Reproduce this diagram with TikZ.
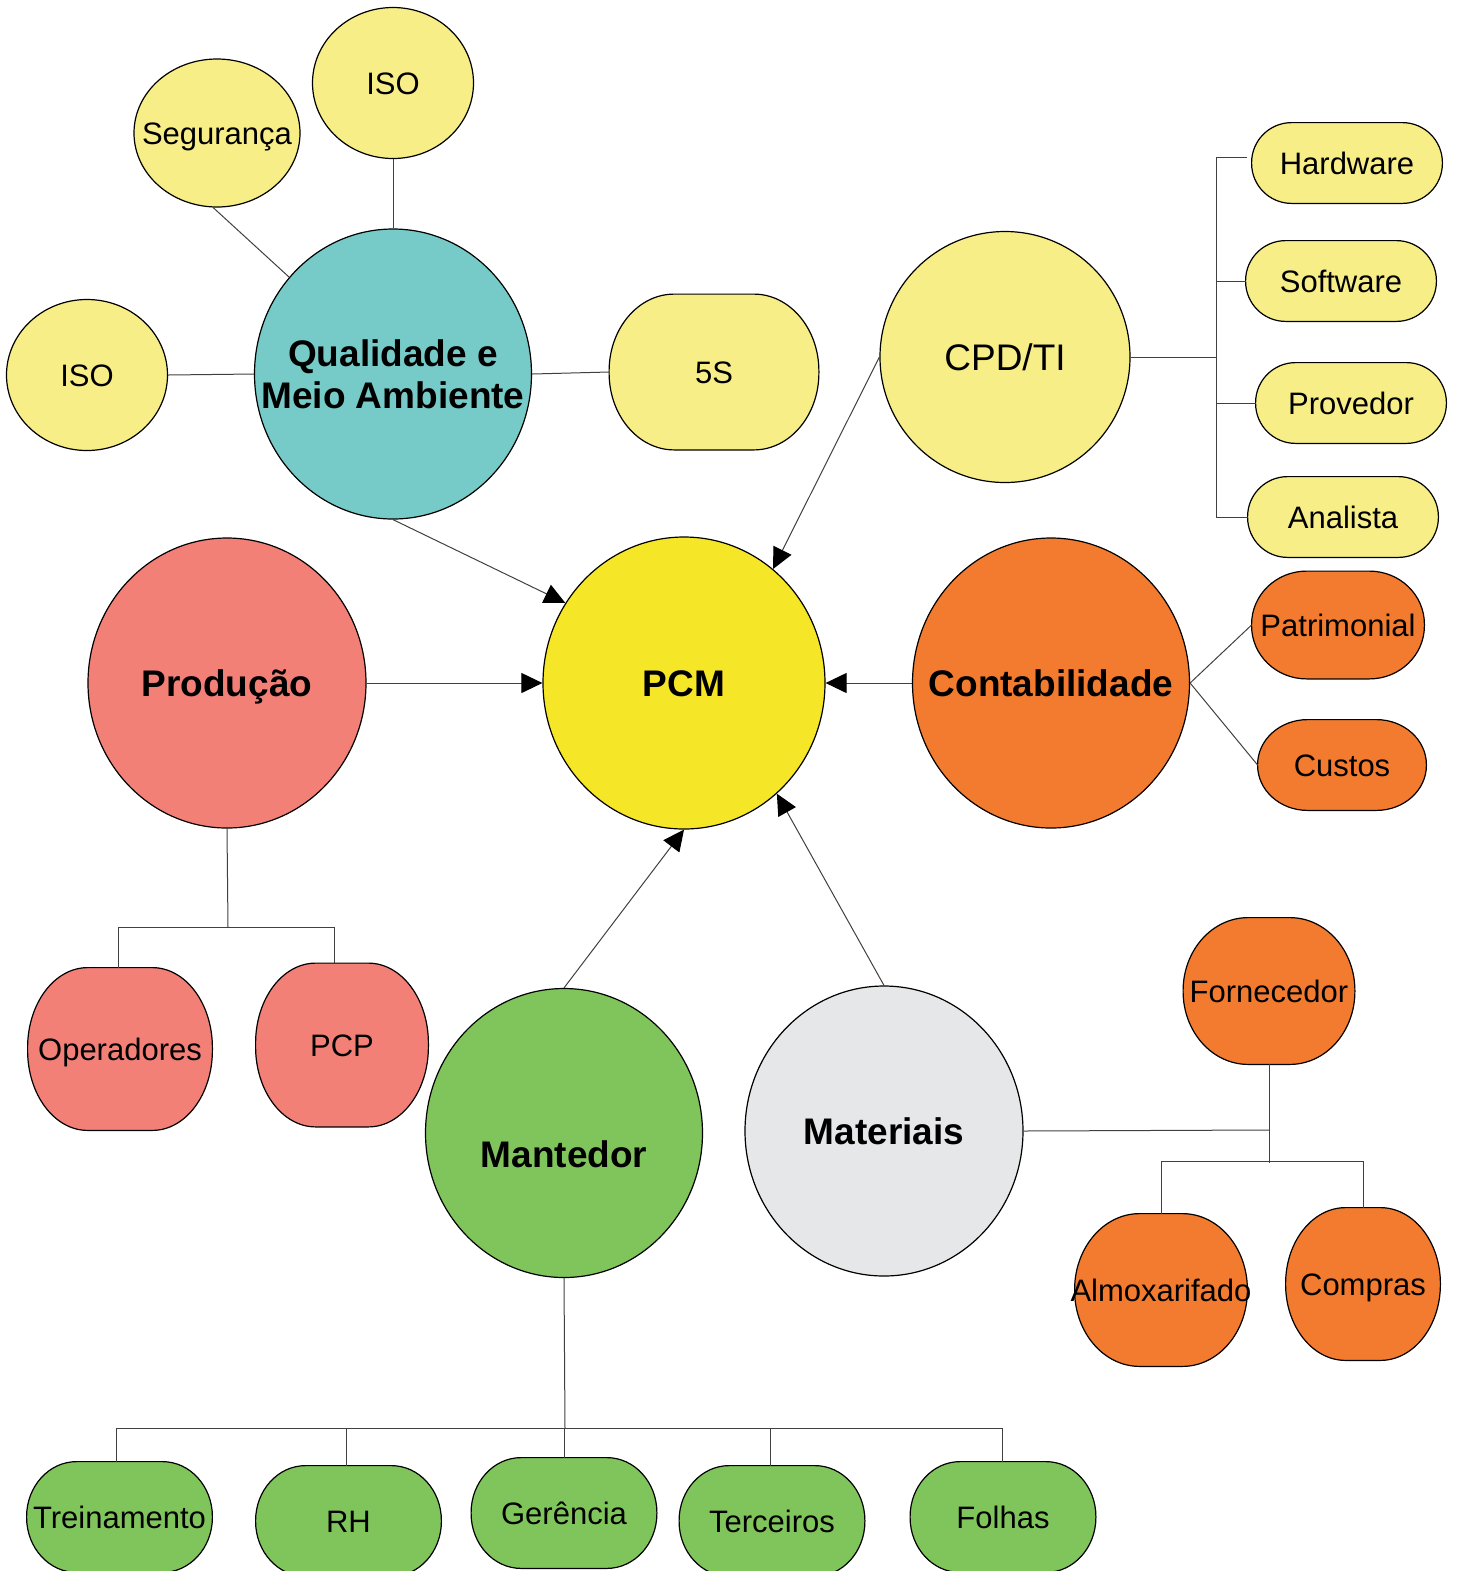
\documentclass[tikz,border=0pt]{standalone}
\usepackage{fontspec}
\setmainfont{Liberation Sans}
\usetikzlibrary{shapes.geometric,arrows.meta,calc}

\definecolor{ylw}{HTML}{F8EE88}
\definecolor{teal}{HTML}{76CAC7}
\definecolor{pcmy}{HTML}{F6E628}
\definecolor{salmon}{HTML}{F28077}
\definecolor{orng}{HTML}{F37B2F}
\definecolor{grn}{HTML}{80C55C}
\definecolor{gry}{HTML}{E6E7E8}

\pgfdeclarelayer{bg}
\pgfsetlayers{bg,main}

% rounded box with elliptical corners drawn behind a named node
% #1 node, #2 corner x radius, #3 corner y radius, #4 fill
\newcommand\ebox[4]{%
  \path[draw=black, line width=0.6pt, fill=#4]
    let \p1=(#1.south west), \p2=(#1.north east) in
    (\x1+#2,\y1) -- (\x2-#2,\y1)
    arc[start angle=-90, end angle=0, x radius=#2, y radius=#3]
    -- (\x2,\y2-#3)
    arc[start angle=0, end angle=90, x radius=#2, y radius=#3]
    -- (\x1+#2,\y2)
    arc[start angle=90, end angle=180, x radius=#2, y radius=#3]
    -- (\x1,\y1+#3)
    arc[start angle=180, end angle=270, x radius=#2, y radius=#3]
    -- cycle;}

\begin{document}
\begin{tikzpicture}[x=0.5pt,y=-0.5pt,
  sz/.style 2 args={minimum width=#1*0.5pt, minimum height=#2*0.5pt},
  orb/.style={ellipse, draw=black, line width=0.6pt, inner sep=0pt},
  box/.style={rectangle, inner sep=0pt, text height=11.1pt, text depth=0pt,
    font=\fontsize{15.5}{18}\selectfont},
  small/.style={inner sep=0pt, text height=11.1pt, text depth=0pt,
    font=\fontsize{15.5}{18}\selectfont},
  mid/.style={inner sep=0pt, text height=13.25pt, text depth=0pt,
    font=\fontsize{18.5}{21}\selectfont},
  big/.style={inner sep=0pt, text height=13.25pt, text depth=0pt,
    font=\fontsize{18.5}{21}\selectfont\bfseries},
  bigml/.style={inner sep=0pt, align=center, font=\fontsize{18.5}{21}\selectfont\bfseries},
  link/.style={draw=black!75, line width=0.5pt},
  arr/.style={link, -{Triangle[length=10.5pt,width=10pt,color=black]}},
]
\path[use as bounding box] (0,0) rectangle (1460,1571);
\clip (0,0) rectangle (1460,1571);

% ---- round bubbles ----
\node[orb, fill=ylw, sz={161}{151}] (isoT) at (393,83) {};
\node[small] (isoT-t) at (isoT) {ISO};
\node[orb, fill=ylw, sz={166}{148}] (seg) at (217,133) {};
\node[small] (seg-t) at (seg) {Segurança};
\node[orb, fill=ylw, sz={161}{151}] (isoL) at (87,375) {};
\node[small] (isoL-t) at (isoL) {ISO};
\node[orb, fill=teal, sz={277}{290}] (qma) at (393,374) {};
\node[bigml] (qma-t) at (qma) {Qualidade e\\Meio Ambiente};
\node[orb, fill=ylw, sz={250}{251}] (cpd) at (1005,357) {};
\node[mid] (cpd-t) at (cpd) {CPD/TI};
\node[orb, fill=pcmy, sz={282}{292}] (pcm) at (684,683) {};
\node[big] (pcm-t) at (pcm) {PCM};
\node[orb, fill=salmon, sz={278}{290}] (prod) at (227,683) {};
\node[big] (prod-t) at (prod) {Produção};
\node[orb, fill=orng, sz={277}{290}] (cont) at (1051,683) {};
\node[big] (cont-t) at (cont) {Contabilidade};
\node[orb, fill=grn, sz={277}{289}] (mant) at (564,1133) {};
\node[big] (mant-t) at (564,1154) {Mantedor};
\node[orb, fill=gry, sz={278}{290}] (mat) at (884,1131) {};
\node[big] (mat-t) at (mat) {Materiais};

% ---- rounded boxes ----
\node[box, sz={209}{155}] (s5) at (714,372) {5S};
\node[box, sz={190}{80}] (hw) at (1347,163) {Hardware};
\node[box, sz={190}{80}] (sw) at (1341,281) {Software};
\node[box, sz={190}{80}] (pv) at (1351,403) {Provedor};
\node[box, sz={190}{80}] (an) at (1343,517) {Analista};
\node[box, sz={172}{107}] (pat) at (1338,625) {Patrimonial};
\node[box, sz={168}{90}] (cus) at (1342,765) {Custos};
\node[box, sz={184}{162}] (op) at (120,1049) {Operadores};
\node[box, sz={172}{163}] (pcp) at (342,1045) {PCP};
\node[box, sz={171}{146}] (forn) at (1269,991) {Fornecedor};
\node[box, sz={172}{152}] (al) at (1161,1290) {\makebox[0pt]{Almoxarifado}};
\node[box, sz={154}{152}] (co) at (1363,1284) {Compras};
\node[box, sz={185}{110}] (tr) at (119.5,1517) {Treinamento};
\node[box, sz={185}{110}] (rh) at (348.5,1521) {RH};
\node[box, sz={185}{110}] (ger) at (564,1513) {Gerência};
\node[box, sz={185}{110}] (te) at (772,1521) {Terceiros};
\node[box, sz={185}{110}] (fo) at (1003,1517) {Folhas};

\begin{pgfonlayer}{bg}
  \ebox{s5}{32.5pt}{38.5pt}{ylw}
  \ebox{hw}{20pt}{20pt}{ylw}
  \ebox{sw}{20pt}{20pt}{ylw}
  \ebox{pv}{20pt}{20pt}{ylw}
  \ebox{an}{20pt}{20pt}{ylw}
  \ebox{pat}{27.5pt}{26.5pt}{orng}
  \ebox{cus}{25pt}{22.5pt}{orng}
  \ebox{op}{30pt}{40pt}{salmon}
  \ebox{pcp}{30pt}{40pt}{salmon}
  \ebox{forn}{32.5pt}{36.5pt}{orng}
  \ebox{al}{32.5pt}{38pt}{orng}
  \ebox{co}{30pt}{38pt}{orng}
  \ebox{tr}{25pt}{27.5pt}{grn}
  \ebox{rh}{25pt}{27.5pt}{grn}
  \ebox{ger}{25pt}{27.5pt}{grn}
  \ebox{te}{25pt}{27.5pt}{grn}
  \ebox{fo}{25pt}{27.5pt}{grn}
\end{pgfonlayer}

% ---- Qualidade e Meio Ambiente branches ----
\draw[link] (isoT.south) -- (qma.north);
\draw[link] (seg.-93) -- (qma.137);
\draw[link] (isoL.east) -- (qma.west);
\draw[link] (qma.east) -- (s5.west);

% ---- CPD/TI bracket ----
\coordinate (bt) at (1216,157);
\coordinate (hwstub) at (1247,157);
\draw[link] (cpd.east) -- (cpd.east -| bt);
\draw[link] (bt) -- (an.west -| bt);
\draw[link] (bt) -- (hwstub);
\draw[link] (sw.west) -- (sw.west -| bt);
\draw[link] (pv.west) -- (pv.west -| bt);
\draw[link] (an.west) -- (an.west -| bt);

% ---- Contabilidade branches ----
\draw[link] (cont.east) -- (pat.west);
\draw[link] (cont.east) -- (cus.west);

% ---- Produção tree ----
\coordinate (pj) at (228,927);
\draw[link] (prod.south) -- (pj);
\draw[link] ([xshift=-1pt]op.north) |- (pj) -| ([xshift=-4pt]pcp.north);

% ---- Materiais tree ----
\coordinate (mj) at (1269,1130);
\coordinate (fj) at (1269,1163);
\coordinate (fb) at (1269,1161);
\draw[link] (mat.east) -- (mj);
\draw[link] (forn.south) -- (fj);
\draw[link] (al.north) |- (fb) -| (co.north);

% ---- Mantedor tree ----
\coordinate (mb) at (565,1428);
\draw[link] (mant.south) -- (mb);
\draw[link] ([xshift=-1.5pt]tr.north) |- (mb) -| ([xshift=-0.5pt]fo.north);
\draw[link] ([xshift=-1pt]rh.north) -- ([xshift=-1pt]rh.north |- mb);
\draw[link] (ger.north) -- (ger.north |- mb);
\draw[link] ([xshift=-1pt]te.north) -- ([xshift=-1pt]te.north |- mb);

% ---- arrows into PCM ----
\draw[arr] (qma.south) -- (pcm.146);
\draw[arr] (cpd.west) -- (pcm.52);
\draw[arr] (prod.east) -- (pcm.west);
\draw[arr] (cont.west) -- (pcm.east);
\draw[arr] (mant.north) -- (pcm.south);
\draw[arr] (mat.north) -- (pcm.-50);
\end{tikzpicture}
\end{document}
